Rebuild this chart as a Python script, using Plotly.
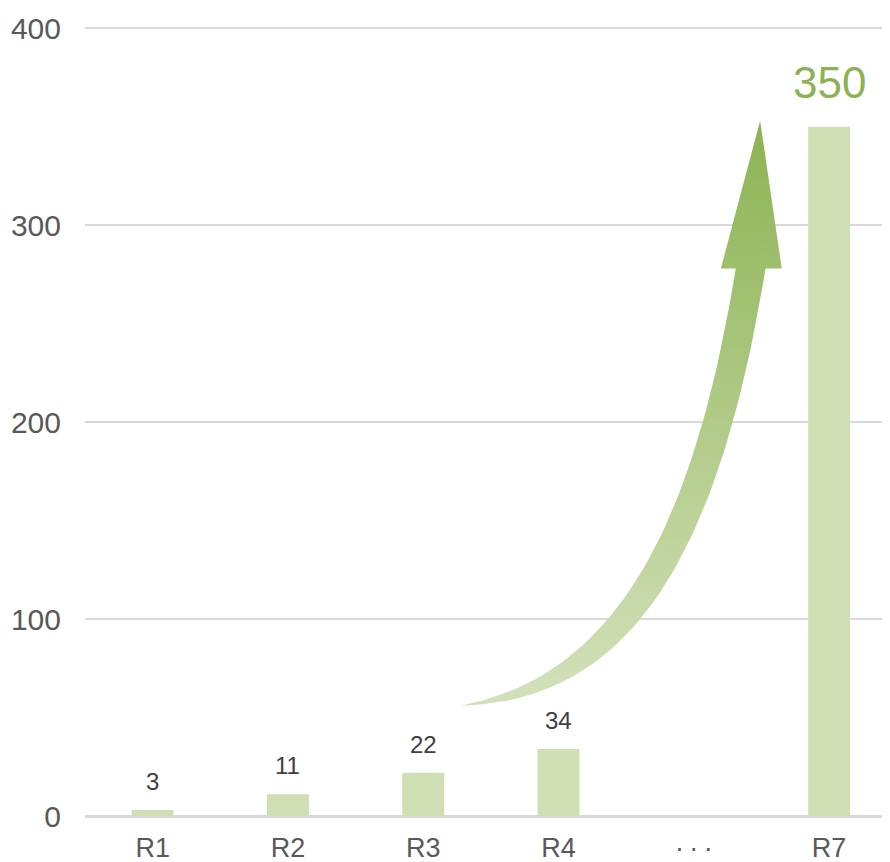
import numpy as np
import plotly.graph_objects as go

# data
categories = ["R1", "R2", "R3", "R4", "·\u2009·\u2009·", "R7"]
values = [3, 11, 22, 34, None, 350]
y_ticks = [0, 100, 200, 300, 400]
highlight = "R7"

BAR_COLOR = "#cfdeb3"
GREEN = "#8db255"
FONT = "Arial, Liberation Sans, sans-serif"

x_pos = list(range(len(categories)))

# curved growth arrow, defined in axis units (x = category index, y = value)
left_edge = [(2.27, 56), (3.36, 70), (3.98, 138), (4.31, 278)]
right_edge = [(2.27, 56), (3.49, 58), (4.17, 126), (4.53, 278)]
head = [(4.20, 278), (4.49, 353), (4.65, 278)]


def bezier(pts, n=60):
    t = np.linspace(0, 1, n)[:, None]
    p = np.array(pts, dtype=float)
    return ((1 - t) ** 3 * p[0] + 3 * (1 - t) ** 2 * t * p[1]
            + 3 * (1 - t) * t ** 2 * p[2] + t ** 3 * p[3])


left = bezier(left_edge)
right = bezier(right_edge)[::-1]
outline = np.vstack([left, np.array(head), right])

fig = go.Figure()

fig.add_trace(go.Bar(
    x=x_pos,
    y=values,
    marker=dict(color=BAR_COLOR, line=dict(width=0)),
    width=0.31,
    hoverinfo="skip",
))

fig.add_trace(go.Scatter(
    x=outline[:, 0],
    y=outline[:, 1],
    mode="lines",
    fill="toself",
    line=dict(width=0, color="rgba(0,0,0,0)"),
    fillgradient=dict(
        type="vertical",
        colorscale=[[0, "#d3e1bb"], [1, "#8cb352"]],
    ),
    hoverinfo="skip",
))

for cat, xv, v in zip(categories, x_pos, values):
    if v is None:
        continue
    big = cat == highlight
    fig.add_annotation(
        x=xv, y=v, text=str(v), showarrow=False,
        yanchor="bottom", yshift=18 if big else 13,
        font=dict(family=FONT, size=44 if big else 24,
                  color=GREEN if big else "#404040"),
    )

# the page body has an 8px margin, so the figure is 8px smaller
fig.update_layout(
    width=882,
    height=854,
    margin=dict(l=77, r=0, t=19, b=46),
    plot_bgcolor="white",
    paper_bgcolor="white",
    showlegend=False,
    font=dict(family=FONT, color="#595959"),
    xaxis=dict(
        range=[-0.5, 5.45],
        tickvals=x_pos,
        ticktext=categories,
        showgrid=False,
        zeroline=False,
        automargin=False,
        ticks="outside",
        ticklen=8,
        tickcolor="rgba(0,0,0,0)",
        tickfont=dict(size=27, color="#595959"),
    ),
    yaxis=dict(
        range=[0, 400.6],
        tickvals=y_ticks,
        showgrid=True,
        gridcolor="#d9d9d9",
        gridwidth=1.5,
        zeroline=True,
        zerolinecolor="#d9d9d9",
        zerolinewidth=3,
        automargin=False,
        ticks="outside",
        ticklen=17,
        tickcolor="rgba(0,0,0,0)",
        tickfont=dict(size=30, color="#595959"),
    ),
)

fig.write_html("out.html")
